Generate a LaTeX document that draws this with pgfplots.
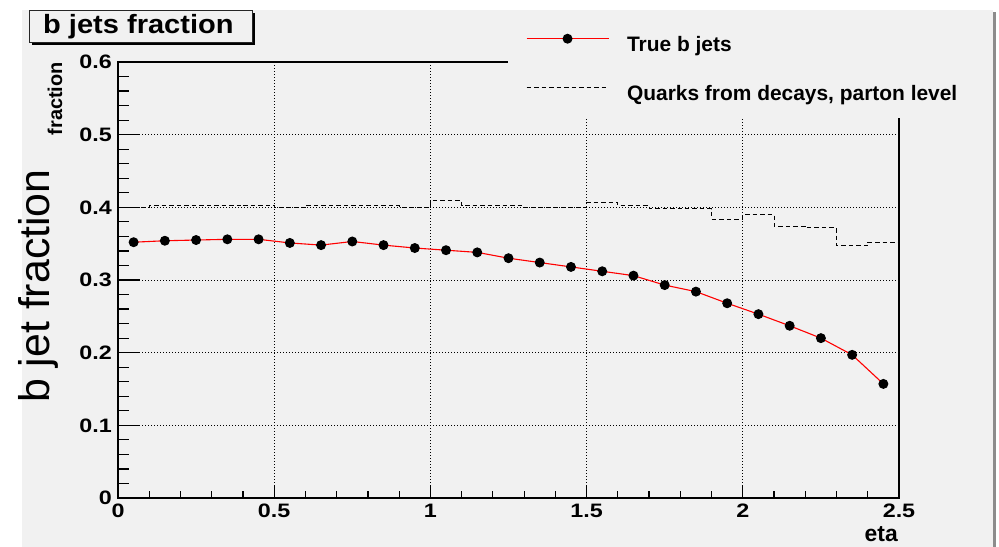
\documentclass[border=0pt]{standalone}
\usepackage{fontspec}
\setmainfont{Liberation Sans}
\newfontfamily\ticklabelfont[FakeStretch=1.2]{Liberation Sans Bold}
\newfontfamily\titlefont[FakeStretch=1.1]{Liberation Sans Bold}
\usepackage{pgfplots}
\pgfplotsset{compat=1.18}
\definecolor{canvas}{RGB}{241,241,241}
\definecolor{rootred}{RGB}{255,0,0}

% fraction of true b jets per eta bin (bin centres)
\pgfplotstableread{
eta  frac
0.05 0.352
0.15 0.354
0.25 0.355
0.35 0.356
0.45 0.356
0.55 0.351
0.65 0.348
0.75 0.353
0.85 0.348
0.95 0.344
1.05 0.341
1.15 0.338
1.25 0.330
1.35 0.324
1.45 0.318
1.55 0.312
1.65 0.306
1.75 0.293
1.85 0.284
1.95 0.268
2.05 0.253
2.15 0.237
2.25 0.220
2.35 0.197
2.45 0.157
}\truebjets

% parton-level quarks from decays, histogram (lower bin edges, last edge repeated)
\pgfplotstableread{
eta frac
0.0 0.400
0.1 0.402
0.2 0.402
0.3 0.402
0.4 0.403
0.5 0.400
0.6 0.403
0.7 0.403
0.8 0.403
0.9 0.400
1.0 0.409
1.1 0.402
1.2 0.402
1.3 0.400
1.4 0.400
1.5 0.407
1.6 0.403
1.7 0.399
1.8 0.398
1.9 0.384
2.0 0.390
2.1 0.374
2.2 0.372
2.3 0.347
2.4 0.352
2.5 0.352
}\partons

\pgfplotsset{
  dotlegend/.style={legend image code/.code={
    \draw[##1, mark repeat=2, mark phase=2] plot coordinates {(0bp,7.5bp) (41bp,7.5bp) (82bp,7.5bp)};}},
  linelegend/.style={legend image code/.code={
    \draw[##1] (0bp,7.5bp) -- (82bp,7.5bp);}},
}

\begin{document}
\begin{tikzpicture}
\useasboundingbox (0bp,0bp) rectangle (999bp,547bp);
% canvas
\fill[canvas] (22bp,0bp) rectangle (993bp,537bp);
\fill[black!45] (993bp,0bp) rectangle (996bp,535bp);

\begin{axis}[
  at={(118bp,49bp)}, anchor=south west,
  scale only axis, width=781bp, height=436bp,
  xmin=0, xmax=2.5, ymin=0, ymax=0.6,
  clip=false,
  axis line style={black, line width=1.4bp},
  tick align=inside,
  xtick pos=bottom, ytick pos=left,
  xtick={0,0.5,1,1.5,2,2.5},
  ytick={0,0.1,0.2,0.3,0.4,0.5,0.6},
  minor x tick num=4, minor y tick num=4,
  every tick/.style={black, line width=1.2bp},
  xtick style={/pgfplots/major tick length=13bp,/pgfplots/minor tick length=6.5bp},
  ytick style={/pgfplots/major tick length=22bp,/pgfplots/minor tick length=11bp},
  grid=major,
  major grid style={black, line width=0.7bp, dash pattern=on 0.9bp off 2.1bp},
  tick label style={font=\fontsize{19.5}{19.5}\selectfont\ticklabelfont},
  /pgf/number format/assume math mode=true,
  xticklabel style={anchor=north, inner sep=0pt, yshift=-6bp},
  yticklabel style={anchor=east, inner sep=0pt, xshift=-6bp},
  ylabel={fraction},
  ylabel style={at={(axis description cs:-0.0717,1)}, anchor=base east,
    inner sep=0pt, font=\fontsize{20}{20}\selectfont\bfseries},
  xlabel={eta},
  xlabel style={at={(axis description cs:0.9987,-0.1009)}, anchor=base east,
    inner sep=0pt, font=\fontsize{23}{23}\selectfont\bfseries},
  legend cell align=left,
  legend style={at={(axis description cs:0.5224,1.0635)}, anchor=north west,
    draw=none, fill=none, inner sep=0pt, outer sep=0pt,
    font=\fontsize{21}{21}\selectfont\bfseries,
    nodes={inner sep=0pt, text height=15bp, text depth=5bp},
    row sep=29bp,
    /tikz/every odd column/.append style={column sep=18bp}},
]
% legend panel over the upper right corner of the frame
\fill[canvas] (axis description cs:0.4994,1.1193) rectangle (axis description cs:1.1204,0.8716);

\addplot[rootred, line width=1.1bp, mark=*, mark size=4.4bp,
  mark options={draw=black, fill=black}, dotlegend] table[x=eta, y=frac] {\truebjets};
\addlegendentry{True b jets}

\addplot[const plot, black, line width=0.9bp, dash pattern=on 4.5bp off 3bp, linelegend]
  table[x=eta, y=frac] {\partons};
\addlegendentry{Quarks from decays, parton level}

\node[rotate=90, anchor=base west, inner sep=0pt,
  font=\fontsize{43}{43}\selectfont] at (axis description cs:-0.0871,0.2179) {b jet fraction};
\end{axis}

% title panel with drop shadow
\fill[black] (32bp,502bp) rectangle (255bp,534bp);
\filldraw[fill=canvas, draw=black!85, line width=0.8bp] (29bp,505bp) rectangle (252bp,537bp);
\node[anchor=base west, inner sep=0pt, font=\fontsize{26.5}{26.5}\selectfont\titlefont]
  at (43bp,513.7bp) {b jets fraction};
\end{tikzpicture}
\end{document}
